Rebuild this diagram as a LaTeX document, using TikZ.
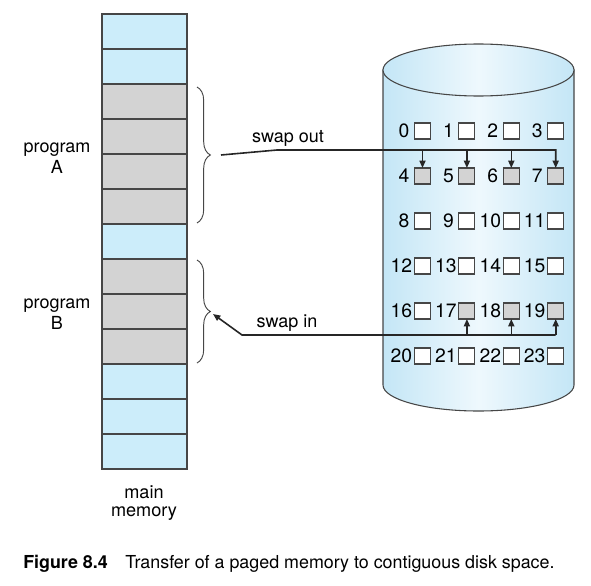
\documentclass[tikz,border=0pt]{standalone}
\usepackage{fontspec}
\setmainfont{TeX Gyre Heros}
\usetikzlibrary{arrows.meta,decorations.pathreplacing}
\definecolor{memblue}{RGB}{204,237,250}
\definecolor{memgray}{RGB}{211,211,211}
\definecolor{edge}{RGB}{70,70,70}
\definecolor{diskedge}{RGB}{196,230,246}
\definecolor{diskmid}{RGB}{238,248,253}
\begin{document}
\begin{tikzpicture}[x=0.75pt,y=-0.75pt,
  cell/.style={draw=edge,line width=0.8pt,minimum width=85*0.75pt,minimum height=35*0.75pt,inner sep=0pt,outer sep=0pt},
  blk/.style={draw=edge,line width=0.8pt,minimum size=16*0.75pt,inner sep=0pt,outer sep=0pt},
  lbl/.style={font=\fontsize{13.5}{15.5}\selectfont,inner sep=0pt,align=center},
  num/.style={font=\fontsize{14.5}{16}\selectfont,inner sep=0pt,anchor=east},
  conn/.style={line width=1.2pt,draw=black!85},
  arr/.style={conn,-{Triangle[length=5.5pt,width=4.5pt]}},
  brc/.style={draw=edge,line width=0.7pt,decorate,decoration={brace,amplitude=10pt}}
]
\useasboundingbox (0,0) rectangle (591,585);
% main memory
\foreach \i/\c in {0/memblue,1/memblue,2/memgray,3/memgray,4/memgray,5/memgray,6/memblue,7/memgray,8/memgray,9/memgray,10/memblue,11/memblue,12/memblue}
  \node[cell,fill=\c] (m\i) at (144.5,{31.5+35*\i}) {};
\node[lbl] (pA) at (57,158) {program\\A};
\node[lbl] (pB) at (57,314) {program\\B};
\node[lbl,font=\fontsize{13.6}{13.9}\selectfont] (mm) at (144,503) {main\\memory};
% braces
\draw[brc] (197,87) -- (197,223);
\draw[brc] (197,260) -- (197,363);
% disk
\path[shading=axis,left color=diskedge,right color=diskedge,middle color=diskmid,draw=edge,line width=0.8pt]
  (383,70) -- (383,385) .. controls (383,399.36) and (425.76,411) .. (478.5,411)
  .. controls (531.24,411) and (574,399.36) .. (574,385) -- (574,70) -- cycle;
\path[shading=axis,left color=diskedge,right color=diskedge,middle color=diskmid,draw=edge,line width=0.8pt]
  (478.5,70) ellipse [x radius=95.5,y radius=26];
\foreach \r in {0,...,5}
  \foreach \c in {0,...,3} {
    \pgfmathtruncatemacro\n{4*\r+\c}
    \pgfmathtruncatemacro\g{((\n>3)&&(\n<8))||((\n>16)&&(\n<20))}
    \ifnum\g=1 \def\fc{memgray}\else\def\fc{white}\fi
    \pgfmathsetmacro\gap{\n<10 ? 3.6 : 1.5}
    \node[blk,fill=\fc] (b\n) at ({422.5+44.4*\c},{131+45*\r}) {};
    \node[num] (t\n) at ([xshift={-\gap*1pt}]b\n.west) {\n};
  }
% swap out
\node[lbl] (so) at (288,138) {swap out};
\coordinate (soStart) at (221,155);
\coordinate (soBend) at (277,150);
\draw[arr] (soStart) -- (soBend) -- (soBend -| b7) -- (b7.north);
\foreach \k in {4,5,6}
  \draw[arr] (soBend -| b\k) -- (b\k.north);
% swap in
\node[lbl] (si) at (287,323) {swap in};
\coordinate (siBend) at (242,335);
\coordinate (siTip) at (213,314);
\draw[arr] (siBend -| b19) -- (siBend) -- (siTip);
\foreach \k in {17,18,19}
  \draw[arr] (siBend -| b\k) -- (b\k.south);
% caption
\node[anchor=base west,inner sep=0pt,font=\fontsize{13.4}{15}\selectfont\bfseries] (fig) at (23,568) {Figure 8.4};
\node[anchor=base west,inner sep=0pt,font=\fontsize{13.4}{15}\selectfont] (cap) at (125,568) {Transfer of a paged memory to contiguous disk space.};
\end{tikzpicture}
\end{document}
